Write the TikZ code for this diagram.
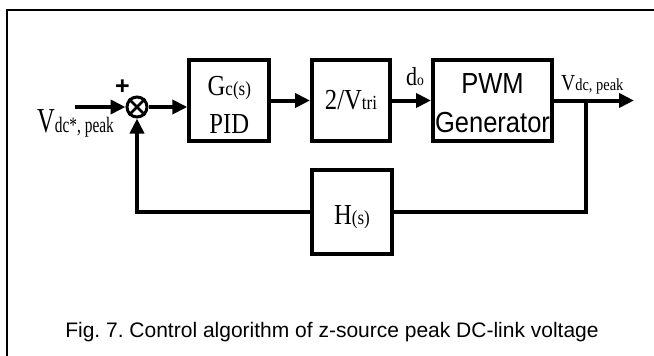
\documentclass[tikz,border=0pt]{standalone}
\usepackage{fontspec}
\setmainfont{Liberation Serif}
\setsansfont{Liberation Sans}
\newfontfamily\boxfont{Liberation Serif}[FakeStretch=0.85]
\newfontfamily\inlblfont{Liberation Serif}[FakeStretch=0.7]
\newfontfamily\pwmfont{Liberation Sans}[FakeStretch=0.88]
\usetikzlibrary{arrows.meta,positioning,calc}
\newcommand{\subtxt}[2][20]{{\fontsize{#1}{#1}\selectfont #2}}
\frenchspacing

\begin{document}
\begin{tikzpicture}[
  x=1pt, y=-1pt,
  blk/.style={draw, line width=4pt, minimum width=80pt, minimum height=81pt, inner sep=0pt, align=center, font=\boxfont\fontsize{29}{38}\selectfont},
  sumnode/.style={draw, circle, line width=3pt, minimum size=20pt, inner sep=0pt},
  arr/.style={line width=4pt, -{Triangle[length=15pt, width=14pt]}},
  wire/.style={line width=4pt},
  lbl/.style={inner sep=0pt}
]
\useasboundingbox (0,0) rectangle (654,356);

% Frame
\draw[line width=2pt] (7,356) -- (7,9.5) -- (654,9.5);

% Summing junction
\node[sumnode] (sum) at (137,107) {};
\draw[line width=2.5pt] (sum.north west) -- (sum.south east) (sum.north east) -- (sum.south west);
\node[lbl, font=\sffamily\bfseries\fontsize{25}{25}\selectfont] (plus) at (122.5,87) {+};

% Blocks
\node[blk, text height=65pt, text depth=0pt] (gc) at (229.3,100.5) {G\subtxt{c(s)}\\PID};
\node[blk, minimum width=78pt] (tri) at (351,100.5) {2/V\subtxt{tri}};
\node[blk, minimum width=119pt, text height=63pt, text depth=0pt, font=\pwmfont\fontsize{29}{39}\selectfont] (pwm) at (492.5,100.5) {PWM\\Generator};
\node[blk, minimum height=84pt, text height=24pt, text depth=0pt] (h) at (352,212) {H\subtxt{(s)}};

% Signal labels
\node[lbl, anchor=base west, font=\inlblfont\fontsize{35}{35}\selectfont] (vref) at (37,132) {V\subtxt[22]{dc*, peak}};
\node[lbl, anchor=base, font=\boxfont\fontsize{26}{26}\selectfont] (duty) at (415,85) {d\subtxt[16]{o}};
\node[lbl, anchor=base west, font=\boxfont\fontsize{23}{23}\selectfont] (vout) at (561,90) {V\subtxt[17]{dc, peak}};

% Caption
\node[lbl, anchor=base, font=\sffamily\fontsize{21}{21}\selectfont] (cap) at (332,337) {Fig. 7. Control algorithm of z-source peak DC-link voltage};

% Flows
\coordinate (in) at (75,107);
\coordinate (out) at (634,100.5);
\coordinate (br) at (586,100.5);
\draw[arr] (in) -- (sum);
\draw[arr] (sum) -- (sum -| gc.west);
\draw[arr] (gc) -- (tri);
\draw[arr] (tri) -- (pwm);
\draw[arr] (pwm) -- (out);
\draw[wire] (br) |- (h);
\draw[arr] (h) -| (sum);
\end{tikzpicture}
\end{document}
